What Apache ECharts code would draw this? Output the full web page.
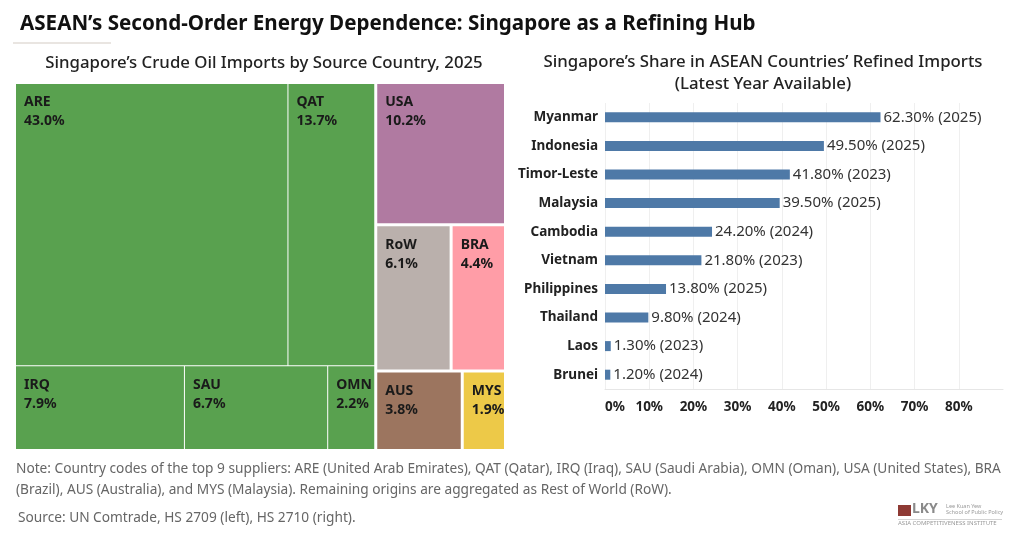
<!DOCTYPE html>
<html>
<head>
<meta charset="utf-8" />
<script src="https://cdn.jsdelivr.net/npm/echarts@6/dist/echarts.min.js"></script>
<style>html,body{margin:0;padding:0;background:#fff;}</style>
</head>
<body>
<div id="main" style="width:1022px;height:538px;"></div>
<script type="text/javascript">
// left: crude oil imports by source (share %, 2025)
var codes = ['ARE', 'QAT', 'IRQ', 'SAU', 'OMN', 'USA', 'RoW', 'BRA', 'AUS', 'MYS'];
var shares = [43.0, 13.7, 7.9, 6.7, 2.2, 10.2, 6.1, 4.4, 3.8, 1.9];
// how tiles are grouped in the treemap (Tableau-like layout)
var tileGroups = [
    [['ARE', 'QAT'], ['IRQ', 'SAU', 'OMN']],
    ['USA', ['RoW', 'BRA'], ['AUS', 'MYS']]
];

// right: Singapore's share in refined imports
var countries = ['Myanmar', 'Indonesia', 'Timor-Leste', 'Malaysia', 'Cambodia', 'Vietnam', 'Philippines', 'Thailand', 'Laos', 'Brunei'];
var sgShare = [62.3, 49.5, 41.8, 39.5, 24.2, 21.8, 13.8, 9.8, 1.3, 1.2];
var years = [2025, 2025, 2023, 2025, 2024, 2023, 2025, 2024, 2023, 2024];

var tileColors = {
    ARE: '#59A14F', QAT: '#59A14F', IRQ: '#59A14F', SAU: '#59A14F', OMN: '#59A14F',
    USA: '#B07AA1', RoW: '#BAB0AC', BRA: '#FF9DA7', AUS: '#9C755F', MYS: '#EDC948'
};

var FONT = '"Noto Sans", sans-serif';

function buildNode(item, gap, id) {
    if (typeof item === 'string') {
        var i = codes.indexOf(item);
        return { name: item, value: shares[i], itemStyle: { color: tileColors[item], borderWidth: 0 } };
    }
    var children = item.map(function (c, k) { return buildNode(c, gap, id + '_' + k); });
    var sum = 0;
    children.forEach(function (c) { sum += c.value; });
    return { name: id, value: sum, children: children, itemStyle: { gapWidth: gap, borderWidth: 0, borderColor: '#fff' } };
}
var tileData = [buildNode(tileGroups[0], 1, 'g0'), buildNode(tileGroups[1], 3, 'g1')];

var myChart = echarts.init(document.getElementById('main'));

var option = {
    animation: false,
    textStyle: { fontFamily: FONT },
    title: [
        {
            text: 'ASEAN\u2019s Second-Order Energy Dependence: Singapore as a Refining Hub',
            left: 15, top: 9,
            textStyle: { fontSize: 20.6, fontWeight: 'bold', color: '#111', fontFamily: FONT }
        },
        {
            text: 'Singapore\u2019s Crude Oil Imports by Source Country, 2025',
            left: 259, top: 50, textAlign: 'center',
            textStyle: { fontSize: 16.8, fontWeight: 500, color: '#222', fontFamily: FONT }
        },
        {
            text: 'Singapore\u2019s Share in ASEAN Countries\u2019 Refined Imports\n(Latest Year Available)',
            left: 758, top: 46, textAlign: 'center',
            textStyle: { fontSize: 16.8, fontWeight: 500, color: '#222', lineHeight: 22, fontFamily: FONT }
        }
    ],
    grid: { left: 605, top: 103, right: 19, bottom: 149 },
    xAxis: {
        type: 'value', min: 0, max: 90, interval: 10,
        axisLine: { show: true, lineStyle: { color: '#e6e6e6' } },
        axisTick: { show: false },
        splitLine: { show: true, showMaxLine: false, lineStyle: { color: '#efefef' } },
        axisLabel: {
            formatter: function (v) { return v === 90 ? '' : v + '%'; },
            fontWeight: 'bold', fontSize: 13.5, color: '#222', margin: 11,
            alignMinLabel: 'left'
        }
    },
    yAxis: {
        type: 'category', data: countries, inverse: true,
        axisLine: { show: false }, axisTick: { show: false },
        axisLabel: { fontWeight: 'bold', fontSize: 13.5, color: '#222', margin: 7 }
    },
    series: [
        {
            type: 'treemap',
            left: 16, top: 84, width: 488, height: 365,
            roam: false, nodeClick: false, sort: false,
            breadcrumb: { show: false },
            silent: true,
            levels: [{ itemStyle: { gapWidth: 3, borderWidth: 0, borderColor: '#fff' } }],
            itemStyle: { borderWidth: 0, borderColor: '#fff' },
            upperLabel: { show: false },
            label: {
                show: true, position: [3, 4], overflow: 'none',
                formatter: function (p) { return p.name + '\n' + p.value.toFixed(1) + '%'; },
                color: '#1a1a1a', fontSize: 14, fontWeight: 'bold', lineHeight: 19
            },
            data: tileData
        },
        {
            type: 'bar',
            data: sgShare,
            barWidth: 10,
            silent: true,
            itemStyle: { color: '#4E79A7' },
            label: {
                show: true, position: 'right', distance: 3,
                formatter: function (p) { return p.value.toFixed(2) + '% (' + years[p.dataIndex] + ')'; },
                fontSize: 15, color: '#333'
            }
        }
    ],
    graphic: [
        { type: 'rect', shape: { x: 13, y: 42, width: 98, height: 2 }, style: { fill: '#e9e5e1' } },
        {
            type: 'text', left: 16, top: 459,
            style: {
                text: 'Note: Country codes of the top 9 suppliers: ARE (United Arab Emirates), QAT (Qatar), IRQ (Iraq), SAU (Saudi Arabia), OMN (Oman), USA (United States), BRA\n(Brazil), AUS (Australia), and MYS (Malaysia). Remaining origins are aggregated as Rest of World (RoW).',
                fill: '#666', fontSize: 13.7, lineHeight: 21, fontFamily: FONT
            }
        },
        {
            type: 'text', left: 18, top: 511,
            style: { text: 'Source: UN Comtrade, HS 2709 (left), HS 2710 (right).', fill: '#666', fontSize: 13.7, fontFamily: FONT }
        },
        // logo
        { type: 'rect', shape: { x: 898, y: 505, width: 13, height: 11 }, style: { fill: '#8e3a34' } },
        { type: 'text', left: 912, top: 502, style: { text: 'LKY', fill: '#8a8a8a', fontSize: 14, fontWeight: 'bold', fontFamily: FONT } },
        { type: 'text', left: 946, top: 503, style: { text: 'Lee Kuan Yew\nSchool of Public Policy', fill: '#999', fontSize: 5.5, lineHeight: 6, fontFamily: FONT } },
        { type: 'rect', shape: { x: 898, y: 519, width: 104, height: 0.6 }, style: { fill: '#aaa' } },
        { type: 'text', left: 898, top: 520, style: { text: 'ASIA COMPETITIVENESS INSTITUTE', fill: '#999', fontSize: 6, fontFamily: FONT } }
    ]
};

myChart.setOption(option);
</script>
</body>
</html>
